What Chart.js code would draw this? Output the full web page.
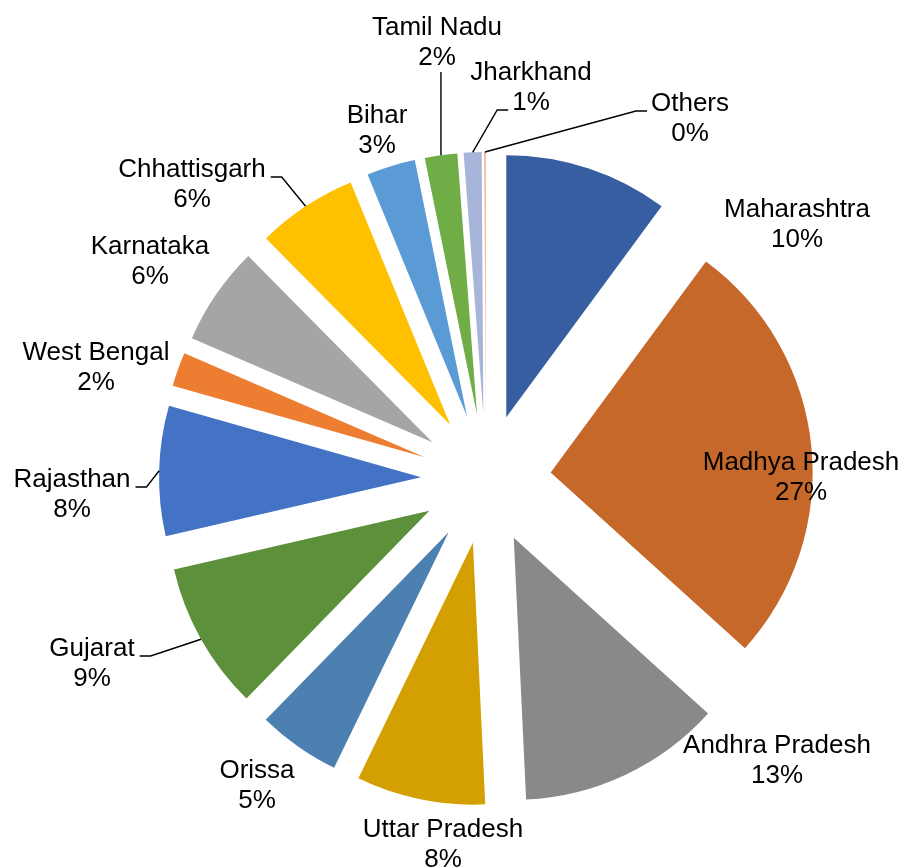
<!DOCTYPE html>
<html>
<head>
<meta charset="utf-8">
<title>State-wise share</title>
<script src="https://cdn.jsdelivr.net/npm/chart.js@4.4.1/dist/chart.umd.min.js"></script>
<style>
    html, body { margin: 0; padding: 0; background: #ffffff; }
    canvas { display: block; }
</style>
</head>
<body>
<canvas id="stateChart" width="904" height="868"></canvas>
<script>
// shares per state, clockwise from 12 o'clock
var states = ['Maharashtra', 'Madhya Pradesh', 'Andhra Pradesh', 'Uttar Pradesh', 'Orissa', 'Gujarat',
    'Rajasthan', 'West Bengal', 'Karnataka', 'Chhattisgarh', 'Bihar', 'Tamil Nadu', 'Jharkhand', 'Others'];
var shares = [10.1, 26.6, 12.55, 7.95, 5.1, 9.1, 8.0, 2.1, 6.1, 6.2, 3.0, 2.0, 1.1, 0.1];

var sliceColors = ['#375EA1', '#C56829', '#898989', '#D49F00', '#4C80B0', '#5D903B',
    '#4472C4', '#ED7D31', '#A5A5A5', '#FFC000', '#5B9BD5', '#70AD47', '#A7B5DB', '#F3B08A'];

// label text spots: [centre x, baseline of first line]
var labelSpots = [
    [797, 217], [801, 470], [777, 753], [443, 837], [257, 778], [92, 656], [72, 487],
    [96, 360], [150, 254], [192, 177], [377, 123], [437, 35], [531, 80], [690, 111]
];
// labels joined to their slice by a leader line
var leaders = {
    5: {side: 'right', line: 0},
    6: {side: 'right', line: 0},
    9: {side: 'right', line: 0},
    11: {side: 'below'},
    12: {side: 'left', line: 1},
    13: {side: 'left', line: 0}
};

var explodeRatio = 0.248;
var lineGap = 30;

// pull every slice out along its bisector
var explodePlugin = {
    id: 'explode',
    afterDatasetUpdate: function (chart, args) {
        args.meta.data.forEach(function (arc) {
            var mid = (arc.startAngle + arc.endAngle) / 2;
            var d = arc.outerRadius * explodeRatio;
            arc.x += Math.cos(mid) * d;
            arc.y += Math.sin(mid) * d;
        });
    }
};

var labelPlugin = {
    id: 'stateLabels',
    afterDraw: function (chart) {
        var ctx = chart.ctx;
        var arcs = chart.getDatasetMeta(0).data;
        var total = shares.reduce(function (a, b) { return a + b; }, 0);
        ctx.save();
        ctx.font = '26px "Liberation Sans", Arial, sans-serif';
        ctx.fillStyle = '#000000';
        ctx.strokeStyle = '#000000';
        ctx.lineWidth = 1.4;
        ctx.textAlign = 'center';
        ctx.textBaseline = 'alphabetic';
        for (var i = 0; i < states.length; i++) {
            var lines = [states[i], Math.round(shares[i] * 100 / total) + '%'];
            var x = labelSpots[i][0];
            var y = labelSpots[i][1];
            ctx.fillText(lines[0], x, y);
            ctx.fillText(lines[1], x, y + lineGap);

            var lead = leaders[i];
            if (!lead) continue;
            var arc = arcs[i];
            var mid = (arc.startAngle + arc.endAngle) / 2;
            var ax = arc.x + Math.cos(mid) * arc.outerRadius;
            var ay = arc.y + Math.sin(mid) * arc.outerRadius;
            ctx.beginPath();
            if (lead.side === 'below') {
                ctx.moveTo(ax, y + lineGap + 7);
                ctx.lineTo(ax, ay);
            } else {
                var ly = y + lead.line * lineGap;
                var half = ctx.measureText(lines[lead.line]).width / 2;
                var sx = lead.side === 'right' ? x + half + 5 : x - half - 4;
                var ex = lead.side === 'right' ? sx + 11 : sx - 11;
                ctx.moveTo(sx, ly);
                ctx.lineTo(ex, ly);
                ctx.lineTo(ax, ay);
            }
            ctx.stroke();
        }
        ctx.restore();
    }
};

var ctx = document.getElementById('stateChart').getContext('2d');
var stateChart = new Chart(ctx, {
    type: 'pie',
    data: {
        labels: states,
        datasets: [{
            data: shares,
            backgroundColor: sliceColors,
            borderWidth: 0,
            hoverOffset: 0
        }]
    },
    options: {
        responsive: false,
        animation: false,
        events: [],
        layout: {
            padding: {left: 224, right: 156, top: 217, bottom: 127}
        },
        plugins: {
            legend: {display: false},
            tooltip: {enabled: false}
        }
    },
    plugins: [explodePlugin, labelPlugin]
});
</script>
</body>
</html>
